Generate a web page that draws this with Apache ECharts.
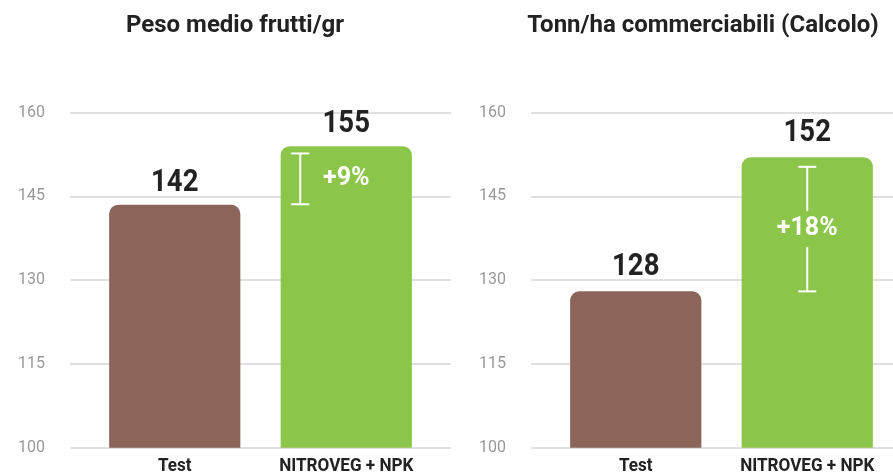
<!DOCTYPE html>
<html><head><meta charset="utf-8">
<script src="https://cdn.jsdelivr.net/npm/echarts@6/dist/echarts.min.js"></script>
<style>html,body{margin:0;padding:0;background:#fff}#c{width:893px;height:474px}</style>
</head><body><div id="c"></div>
<script>
const categories = ['Test', 'NITROVEG + NPK'];
const titles = ['Peso medio frutti/gr', 'Tonn/ha commerciabili (Calcolo)'];
const weightValues = [143.5, 154];
const weightLabels = ['142', '155'];
const yieldValues = [128, 152];
const yieldLabels = ['128', '152'];
const yMin = 100, yMax = 160, yStep = 15;
// bracket: [category index, low, high]
const weightBracket = [1, 143.6, 152.7];
const yieldBracket = [1, 128, 150.3];
const deltaLabels = ['+9%', '+18%'];

const barColors = ['#8B6559', '#8BC64A'];

const chart = echarts.init(document.getElementById('c'), null, {renderer: 'canvas'});

function bracketSeries(xi, yi, data, label, offsetX, gap) {
  return {
    type: 'custom', xAxisIndex: xi, yAxisIndex: yi, z: 5,
    data: [data],
    renderItem: function (params, api) {
      const top = api.coord([api.value(0), api.value(2)]);
      const bot = api.coord([api.value(0), api.value(1)]);
      const x = top[0] + offsetX;
      const mid = (top[1] + bot[1]) / 2;
      const st = {stroke: '#fff', lineWidth: 2};
      const ch = [
        {type: 'line', shape: {x1: x - 9, y1: top[1], x2: x + 9, y2: top[1]}, style: st},
        {type: 'line', shape: {x1: x - 9, y1: bot[1], x2: x + 9, y2: bot[1]}, style: st}
      ];
      if (gap > 0) {
        ch.push({type: 'line', shape: {x1: x, y1: top[1], x2: x, y2: mid - gap}, style: st});
        ch.push({type: 'line', shape: {x1: x, y1: mid + gap, x2: x, y2: bot[1]}, style: st});
      } else {
        ch.push({type: 'line', shape: {x1: x, y1: top[1], x2: x, y2: bot[1]}, style: st});
      }
      ch.push({type: 'text', x: top[0], y: mid, style: {text: label, x: 0, y: 0, align: 'center', verticalAlign: 'middle',
        fill: '#fff', font: 'bold 25px Roboto, sans-serif'}});
      return {type: 'group', children: ch};
    }
  };
}

function barSeries(xi, yi, values) {
  return {
    type: 'bar', xAxisIndex: xi, yAxisIndex: yi, barWidth: '76.5%',
    data: values.map((v, i) => ({value: v, itemStyle: {color: barColors[i]}})),
    itemStyle: {borderRadius: [9, 9, 0, 0]}
  };
}

// condensed-looking value labels above bars
function valueLabelSeries(xi, yi, values, labels, offset) {
  return {
    type: 'custom', xAxisIndex: xi, yAxisIndex: yi, z: 6,
    data: values.map((v, i) => [i, v]),
    renderItem: function (params, api) {
      const p = api.coord([api.value(0), api.value(1)]);
      return {type: 'text', x: p[0], y: p[1] - offset, scaleX: 0.86,
        style: {text: labels[params.dataIndex], x: 0, y: 0, align: 'center', verticalAlign: 'middle',
          fill: '#222', font: 'bold 32px Roboto, sans-serif'}};
    }
  };
}

// condensed-looking category labels under axis
function categoryLabelSeries(xi, yi) {
  return {
    type: 'custom', xAxisIndex: xi, yAxisIndex: yi, z: 6,
    data: categories.map((c, i) => [i, yMin]),
    renderItem: function (params, api) {
      const p = api.coord([api.value(0), api.value(1)]);
      return {type: 'text', x: p[0], y: p[1] + 19, scaleX: 0.9,
        style: {text: categories[params.dataIndex], x: 0, y: 0, align: 'center', verticalAlign: 'middle',
          fill: '#222', font: 'bold 19px Roboto, sans-serif'}};
    }
  };
}

const gridTop = 112.7, gridBottom = 474 - 447.7;
const yAxisBase = {type: 'value', min: yMin, max: yMax, interval: yStep};
const titleStyle = {fontFamily: 'Roboto', fontWeight: 'bold', fontSize: 24, color: '#222'};

chart.setOption({
  animation: false,
  title: [
    {text: titles[0], left: 230, top: 9, textAlign: 'center', textStyle: titleStyle},
    {text: titles[1], left: 698, top: 9, textAlign: 'center', textStyle: titleStyle}
  ],
  grid: [
    {left: 70, width: 381, top: gridTop, bottom: gridBottom},
    {left: 89, width: 343, top: gridTop, bottom: gridBottom},
    {left: 531, width: 362, top: gridTop, bottom: gridBottom},
    {left: 550, width: 343, top: gridTop, bottom: gridBottom}
  ],
  xAxis: [
    {type: 'value', gridIndex: 0, show: false},
    {type: 'category', gridIndex: 1, data: categories, axisLine: {show: false}, axisTick: {show: false}, axisLabel: {show: false}},
    {type: 'value', gridIndex: 2, show: false},
    {type: 'category', gridIndex: 3, data: categories, axisLine: {show: false}, axisTick: {show: false}, axisLabel: {show: false}}
  ],
  yAxis: [
    Object.assign({gridIndex: 0, axisLine: {show: false}, axisTick: {show: false},
      axisLabel: {margin: 25, color: '#999', fontFamily: 'Roboto', fontSize: 16},
      splitLine: {lineStyle: {color: '#d6d6d6', width: 1.5}}}, yAxisBase),
    Object.assign({gridIndex: 1, show: false, splitLine: {show: false}}, yAxisBase),
    Object.assign({gridIndex: 2, axisLine: {show: false}, axisTick: {show: false},
      axisLabel: {margin: 25, color: '#999', fontFamily: 'Roboto', fontSize: 16},
      splitLine: {lineStyle: {color: '#d6d6d6', width: 1.5}}}, yAxisBase),
    Object.assign({gridIndex: 3, show: false, splitLine: {show: false}}, yAxisBase)
  ],
  series: [
    barSeries(1, 1, weightValues),
    barSeries(3, 3, yieldValues),
    valueLabelSeries(1, 1, weightValues, weightLabels, 22),
    valueLabelSeries(3, 3, yieldValues, yieldLabels, 24),
    categoryLabelSeries(1, 1),
    categoryLabelSeries(3, 3),
    bracketSeries(1, 1, weightBracket, deltaLabels[0], -46, 0),
    bracketSeries(3, 3, yieldBracket, deltaLabels[1], 0, 18)
  ]
});
</script></body></html>
